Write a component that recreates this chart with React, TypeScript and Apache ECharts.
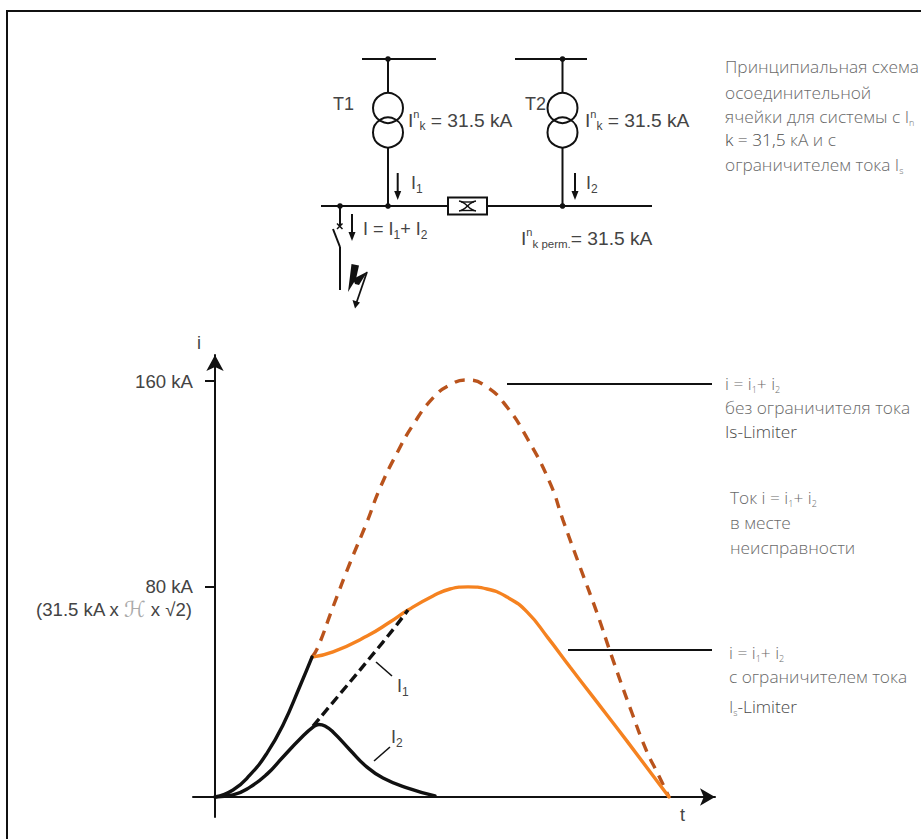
import React, { useEffect, useRef } from "react";
import * as echarts from "echarts";

// t in arbitrary time units, i in kA
const totalRise: number[][] = [[0,0],[3.6,2.7],[7,8.5],[10.4,16.9],[13.6,27.7],[17,42.7],[19.4,53.8]];
const withoutLimiter: number[][] = [[19.4,53.8],[20.6,57.7],[23.6,73.1],[27,90],[30.4,105.8],[33,118.8],[36.4,132.3],[39.6,143.1],[43.6,153.5],[47,158.5],[50.4,160.4],[54.4,157.7],[58.4,150],[62.4,138.1],[67,120.8],[69.6,106.5],[73,88.5],[76.4,70.8],[79.4,53.8],[83.4,32.3],[86.4,17.3],[88.4,9.6],[90.8,0]];
const withLimiter: number[][] = [[19.4,53.8],[23.6,55.8],[30.4,61.9],[35,67.3],[38.6,71.9],[43.6,77.3],[47,80],[50.6,80.8],[54.4,80],[58.4,76.9],[62.4,71.2],[66.6,61.2],[71,50],[75.6,38.5],[82.4,21.5],[90.8,0]];
const currentI2: number[][] = [[0,0],[3.6,0.8],[7,3.8],[10.4,8.8],[13.6,15.4],[17,22.3],[19.6,26.9],[20.8,27.9],[22,27.3],[23.6,25],[27,18.1],[30.4,11.5],[33.6,7.3],[38.4,3.5],[44,0.4]];
const currentI1: number[][] = [[19.6,27.3],[33.6,59.6],[38.6,71.9]];
const yTickValues = [81, 160];
const yTickLabels: Record<number, string> = { 81: "80 kA", 160: "160 kA" };

const SANS = "'Liberation Sans', Arial, sans-serif";
const LIGHT = "'Open Sans', 'Noto Sans', sans-serif";
const INK = "#111";
const TXT = "#444";
const LIGHT_TXT = "#6a6a6a";
const DARK_LIGHT_TXT = "#4a4a4a";

const sansRich = {
  sup: { fontSize: 11, fill: TXT, verticalAlign: "top", lineHeight: 11, fontFamily: SANS },
  sub: { fontSize: 12, fill: TXT, verticalAlign: "bottom", lineHeight: 12, fontFamily: SANS },
  subs: { fontSize: 11.5, fill: TXT, verticalAlign: "bottom", lineHeight: 12, fontFamily: SANS },
  m: { fontSize: 18, fill: TXT, lineHeight: 24, fontFamily: SANS },
  M: { fontSize: 19.2, fill: TXT, lineHeight: 24, fontFamily: SANS },
  a: { fontSize: 18.6, fill: TXT, lineHeight: 24, fontFamily: SANS },
  g: { fontSize: 22, fill: "#aaa", lineHeight: 24, fontFamily: "'DejaVu Sans'", fontStyle: "italic" },
};
const lightRich = {
  sub: { fontSize: 9, fill: LIGHT_TXT, verticalAlign: "bottom", lineHeight: 10, fontFamily: LIGHT, fontWeight: 300 },
  m: { fontSize: 17.3, fill: LIGHT_TXT, lineHeight: 22, fontFamily: LIGHT, fontWeight: 300 },
  d: { fontSize: 17.3, fill: DARK_LIGHT_TXT, lineHeight: 22, fontFamily: LIGHT, fontWeight: 300 },
};

const st = (x: number, y: number, text: string, align = "left") => ({
  type: "text", x, y, silent: true,
  style: { text, rich: sansRich, align, verticalAlign: "middle", fontFamily: SANS, fontSize: 18, fill: TXT },
});
const lt = (x: number, y: number, text: string) => ({
  type: "text", x, y: y - 1, silent: true,
  style: { text, rich: lightRich, align: "left", verticalAlign: "middle", fontFamily: LIGHT, fontSize: 17.3, fontWeight: 300, fill: LIGHT_TXT },
});
const ln = (x1: number, y1: number, x2: number, y2: number, w = 2) => ({
  type: "line", silent: true, shape: { x1, y1, x2, y2 }, style: { stroke: INK, lineWidth: w },
});
const dot = (cx: number, cy: number) => ({ type: "circle", silent: true, shape: { cx, cy, r: 2.8 }, style: { fill: INK } });
const coil = (cx: number, cy: number) => ({ type: "circle", silent: true, shape: { cx, cy, r: 15 }, style: { fill: "none", stroke: INK, lineWidth: 2 } });
const arrowDown = (x: number, y1: number, y2: number) => [
  ln(x, y1, x, y2 - 6),
  { type: "polygon", silent: true, shape: { points: [[x - 3.5, y2 - 9], [x + 3.5, y2 - 9], [x, y2]] }, style: { fill: INK } },
];

const graphics: any[] = [
  { type: "polyline", silent: true, shape: { points: [[7, 839], [7, 11], [921, 11]] }, style: { fill: "none", stroke: INK, lineWidth: 2 } },
  // network schematic
  ln(362, 59, 436, 59), dot(388, 59), ln(388, 59, 388, 93), coil(388, 108), coil(388, 132.5), ln(388, 147.5, 388, 206),
  ln(515, 59, 587, 59), dot(562.5, 59), ln(562.5, 59, 562.5, 93), coil(562.5, 108), coil(562.5, 132.5), ln(562.5, 147.5, 562.5, 206),
  ln(321, 206, 652, 206), dot(340, 206), dot(388, 206), dot(562.5, 206),
  { type: "rect", silent: true, shape: { x: 448, y: 197.5, width: 39, height: 17 }, style: { fill: "#fff", stroke: INK, lineWidth: 2 } },
  { type: "bezierCurve", silent: true, shape: { x1: 459, y1: 201, x2: 476, y2: 211, cpx1: 467, cpy1: 202, cpx2: 468, cpy2: 210 }, style: { fill: "none", stroke: INK, lineWidth: 1.6 } },
  { type: "bezierCurve", silent: true, shape: { x1: 476, y1: 201, x2: 459, y2: 211, cpx1: 468, cpy1: 202, cpx2: 467, cpy2: 210 }, style: { fill: "none", stroke: INK, lineWidth: 1.6 } },
  ln(461, 202, 474, 202, 1.4), ln(461, 210.5, 474, 210.5, 1.4),
  ln(340, 206, 340, 226), ln(337, 223.5, 342.5, 229, 1.5), ln(342.5, 223.5, 337, 229, 1.5),
  ln(333, 229, 340, 247), ln(340, 247, 340, 290),
  ...arrowDown(397.7, 173, 200), ...arrowDown(575, 173, 200), ...arrowDown(352, 214, 241),
  { type: "polygon", silent: true, shape: { points: [[351.5, 264], [359, 265.5], [356, 279], [348, 292]] }, style: { fill: INK } },
  { type: "polygon", silent: true, shape: { points: [[353, 279], [367.5, 271.5], [359, 285], [355, 284]] }, style: { fill: INK } },
  ln(367, 272, 356, 304, 1.8),
  { type: "polygon", silent: true, shape: { points: [[352.5, 300], [360, 302.5], [355, 308.5]] }, style: { fill: INK } },
  st(333, 104, "{m|T1}"),
  st(525, 104, "{m|T2}"),
  st(408, 120, "{M|I}{sup|n}{sub|k}{M| = 31.5 kA}"),
  st(585, 120, "{M|I}{sup|n}{sub|k}{M| = 31.5 kA}"),
  st(411, 183, "{m|I}{sub|1}"),
  st(586, 183, "{m|I}{sub|2}"),
  st(363, 229, "{m|I = I}{sub|1}{m|+ I}{sub|2}"),
  st(521, 238, "{M|I}{sup|n}{subs|k perm.}{M|= 31.5 kA}"),
  // curve annotations
  ln(507, 384, 712, 384), ln(568, 650, 712, 650),
  ln(376, 662, 392, 676, 1.6), ln(374, 761, 390, 747, 1.6),
  st(397, 686, "{m|I}{sub|1}"),
  st(391, 737, "{m|I}{sub|2}"),
  st(192, 609, "{a|(31.5 kA x }{g|ℋ}{a| x √2)}", "right"),
  // explanatory text
  lt(725, 67, "{m|Принципиальная схема}"),
  lt(725, 93, "{m|осоединительной}"),
  lt(725, 117, "{m|ячейки для системы с I}{sub|n}"),
  lt(725, 140, "{d|k = 31,5 }{m|кА и с}"),
  lt(725, 165, "{m|ограничителем тока I}{sub|s}"),
  lt(725, 384, "{m|i = i}{sub|1}{m|+ i}{sub|2}"),
  lt(725, 408, "{m|без ограничителя тока}"),
  lt(725, 432, "{d|Is-Limiter}"),
  lt(730, 498, "{m|Ток i = i}{sub|1}{m|+ i}{sub|2}"),
  lt(730, 523, "{m|в месте}"),
  lt(730, 548, "{m|неисправности}"),
  lt(729, 653, "{m|i = i}{sub|1}{m|+ i}{sub|2}"),
  lt(729, 677, "{m|с ограничителем тока}"),
  lt(729, 707, "{m|I}{sub|s}{d|-Limiter}"),
];

const lineSeries = (name: string, data: number[][], color: string, width: number, dash?: number[]) => ({
  name, type: "line", data, smooth: 0.5, symbol: "none", silent: true, clip: false,
  lineStyle: { color, width, type: dash || "solid", cap: dash ? "butt" : "round" },
});

export default function App() {
  const ref = useRef<HTMLDivElement>(null);
  useEffect(() => {
    document.body.style.margin = "0";
    document.body.style.background = "#fff";
    const chart = echarts.init(ref.current!, undefined, { renderer: "svg" });
    chart.setOption({
      animation: false,
      backgroundColor: "#fff",
      grid: { left: 193, right: 206, top: 355, bottom: 22, containLabel: false },
      xAxis: {
        type: "value", min: -4.4, max: 100,
        name: "t", nameLocation: "end", nameGap: -35,
        nameTextStyle: { fontFamily: SANS, fontSize: 18, color: TXT, verticalAlign: "top", padding: [9, 0, 0, 0] },
        axisLine: { onZero: true, symbol: ["none", "arrow"], symbolSize: [13, 15], lineStyle: { color: INK, width: 2 } },
        axisTick: { show: false }, axisLabel: { show: false }, splitLine: { show: false },
      },
      yAxis: {
        type: "value", min: -7.69, max: 170,
        name: "i", nameLocation: "end", nameGap: 3,
        nameTextStyle: { fontFamily: SANS, fontSize: 18, color: TXT, align: "center", padding: [0, 32, 0, 0] },
        axisLine: { onZero: true, symbol: ["none", "arrow"], symbolSize: [13, 16], lineStyle: { color: INK, width: 2 } },
        axisTick: { show: true, length: 10, customValues: yTickValues, lineStyle: { color: INK, width: 2 } },
        axisLabel: {
          show: true, customValues: yTickValues, margin: 0, padding: [0, 0, 4, 0],
          formatter: (v: number) => yTickLabels[v] ?? "",
          fontFamily: SANS, fontSize: 18.6, color: TXT,
        },
        splitLine: { show: false },
      },
      series: [
        lineSeries("i without limiter", withoutLimiter, "#B9531C", 3.4, [10.5, 8]),
        lineSeries("i with limiter", withLimiter, "#F58220", 3.4),
        lineSeries("I1", currentI1, INK, 3.4, [9.5, 5]),
        lineSeries("I2", currentI2, INK, 3.4),
        lineSeries("i rise", totalRise, INK, 3.4),
      ],
      graphic: graphics,
    });
    return () => chart.dispose();
  }, []);
  return <div ref={ref} style={{ position: "absolute", left: 0, top: 0, width: 921, height: 839 }} />;
}
